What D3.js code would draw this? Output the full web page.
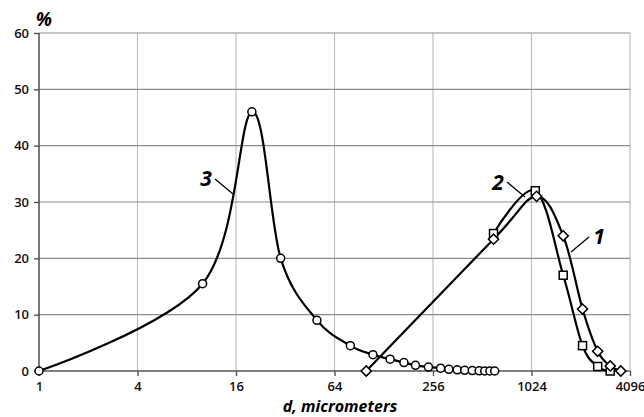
<!DOCTYPE html>
<html>
<head>
<meta charset="utf-8">
<script src="https://cdn.jsdelivr.net/npm/d3@7"></script>
<style>
  body { margin: 0; background: #fff; }
  text { font-family: "Open Sans", "DejaVu Sans", sans-serif; }
</style>
</head>
<body>
<script>
// tick labels
var xTicks = [1, 4, 16, 64, 256, 1024, 4096];
var yTicks = [0, 10, 20, 30, 40, 50, 60];

// curve 1 (diamonds)
var d1 = [100, 600, 1100, 1600, 2100, 2600, 3100, 3600];
var v1 = [0, 23.4, 31, 24, 11, 3.5, 0.9, 0];

// curve 2 (squares)
var d2 = [600, 1080, 1600, 2100, 2600, 3100];
var v2 = [24.4, 32, 17, 4.5, 0.8, 0];

// curve 3 (circles)
var d3x = [1, 10, 20, 30, 50, 80, 110, 140, 170, 200, 240, 285, 320, 360, 400, 445, 490, 530, 570, 610];
var v3 = [0, 15.5, 46, 20, 9, 4.5, 2.9, 2.1, 1.5, 1.0, 0.7, 0.5, 0.3, 0.2, 0.12, 0.07, 0.03, 0, 0, 0];

var W = 644, H = 417;
var svg = d3.select("body").append("svg").attr("width", W).attr("height", H);

var x = d3.scaleLog().base(2).domain([1, 4096]).range([39, 630]);
var y = d3.scaleLinear().domain([0, 60]).range([371, 33]);

//grid
svg.selectAll("line.vg").data(xTicks.slice(1)).enter().append("line")
  .attr("x1", d => x(d)).attr("x2", d => x(d))
  .attr("y1", y(60)).attr("y2", y(0))
  .attr("stroke", "#c0c0c0").attr("stroke-width", 1.2);
svg.selectAll("line.hg").data(yTicks.slice(1)).enter().append("line")
  .attr("x1", x(1)).attr("x2", x(4096))
  .attr("y1", d => y(d)).attr("y2", d => y(d))
  .attr("stroke", "#8c8c8c").attr("stroke-width", 1.2);

// axes
var xAxis = d3.axisBottom(x).tickValues(xTicks).tickFormat(d3.format("d")).tickSize(5).tickPadding(6);
var gx = svg.append("g").attr("transform", "translate(0," + y(0) + ")").call(xAxis);
var yAxis = d3.axisLeft(y).tickValues(yTicks).tickSize(5).tickPadding(5);
var gy = svg.append("g").attr("transform", "translate(" + x(1) + ",0)").call(yAxis);
[gx, gy].forEach(function(g) {
  g.select(".domain").attr("stroke", "#555").attr("stroke-width", 1.6);
  g.selectAll(".tick line").attr("stroke", "#555").attr("stroke-width", 1.4);
  g.selectAll(".tick text").attr("fill", "#111").style("font-size", "13px").style("font-weight", "600")
    .style("font-family", "'Open Sans', sans-serif");
});
gx.select(".domain").attr("d", "M" + x(1) + ",0H" + x(4096));
gy.select(".domain").attr("d", "M0," + y(0) + "V" + y(60));

var line = d3.line()
  .x(d => x(d[0])).y(d => y(d[1]))
  .curve(d3.curveCardinal.tension(0));

function series(xs, vs) { return xs.map((d, i) => [d, vs[i]]); }
var s1 = series(d1, v1), s2 = series(d2, v2), s3 = series(d3x, v3);

[s3, s2, s1].forEach(function(s) {
  svg.append("path").attr("d", line(s)).attr("fill", "none")
    .attr("stroke", "#000").attr("stroke-width", 2.2);
});

// markers
svg.selectAll("circle.c3").data(s3).enter().append("circle")
  .attr("cx", d => x(d[0])).attr("cy", d => y(d[1])).attr("r", 4)
  .attr("fill", "#fff").attr("stroke", "#000").attr("stroke-width", 1.5);
svg.selectAll("rect.c2").data(s2).enter().append("rect")
  .attr("x", d => x(d[0]) - 4).attr("y", d => y(d[1]) - 4)
  .attr("width", 8).attr("height", 8)
  .attr("fill", "#fff").attr("stroke", "#000").attr("stroke-width", 1.5);
svg.selectAll("rect.c1").data(s1).enter().append("rect")
  .attr("x", -3.6).attr("y", -3.6).attr("width", 7.2).attr("height", 7.2)
  .attr("transform", d => "translate(" + x(d[0]) + "," + y(d[1]) + ") rotate(45)")
  .attr("fill", "#fff").attr("stroke", "#000").attr("stroke-width", 1.5);

// curve labels
function label(t, tx, ty, lx1, ly1, lx2, ly2) {
  svg.append("line").attr("x1", lx1).attr("y1", ly1).attr("x2", lx2).attr("y2", ly2)
    .attr("stroke", "#000").attr("stroke-width", 1.3);
  svg.append("text").attr("x", tx).attr("y", ty).text(t)
    .attr("text-anchor", "middle")
    .style("font-size", "21px").style("font-style", "italic").style("font-weight", "bold");
}
label("3", 206, 186, 215, 179, 233, 194);
label("2", 498, 190, 507, 182, 525, 197);
label("1", 599, 244, 589, 237, 571, 252);

// axis titles
svg.append("text").attr("x", 44).attr("y", 26).text("%")
  .attr("text-anchor", "middle")
  .style("font-size", "19px").style("font-style", "italic").style("font-weight", "bold");
svg.append("text").attr("x", 340).attr("y", 412).text("d, micrometers")
  .attr("text-anchor", "middle")
  .style("font-size", "16px").style("font-style", "italic").style("font-weight", "bold");
</script>
</body>
</html>
